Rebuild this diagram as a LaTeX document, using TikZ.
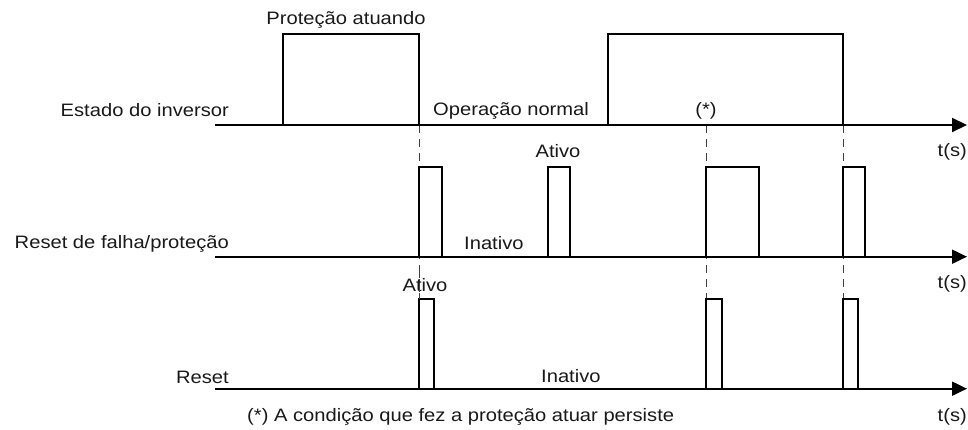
\documentclass[tikz,border=0pt]{standalone}
\usepackage{fontspec}
\setmainfont[FakeStretch=1.12]{Liberation Sans}
\usetikzlibrary{arrows.meta}
\begin{document}
\begin{tikzpicture}[x=1pt,y=-1pt,
  sig/.style={line width=2pt, line join=miter},
  axis/.style={line width=2pt,-{Triangle[length=15pt,width=14pt]}},
  guide/.style={line width=1pt, dash pattern=on 8pt off 6pt, black!75},
  lbl/.style={inner sep=0pt, font=\fontsize{18}{20}\selectfont, text=black!90}]
\useasboundingbox (0,0) rectangle (968,430);
% guide lines
\coordinate (g1a) at (419,125); \coordinate (g1b) at (419,299);
\coordinate (g2a) at (706,125); \coordinate (g2b) at (706,299);
\coordinate (g3a) at (843,125); \coordinate (g3b) at (843,299);
\draw[guide] (g1a) -- (g1b);
\draw[guide] (g2a) -- (g2b);
\draw[guide] (g3a) -- (g3b);
% axes
\coordinate (a1s) at (215,125);   \coordinate (a1e) at (967,125);
\coordinate (a2s) at (215,256.7); \coordinate (a2e) at (967,256.7);
\coordinate (a3s) at (215,388.7); \coordinate (a3e) at (967,388.7);
\draw[axis] (a1s) -- (a1e);
\draw[axis] (a2s) -- (a2e);
\draw[axis] (a3s) -- (a3e);
% signal 1
\draw[sig] (283,125) -- (283,34) -- (419,34) -- (419,125);
\draw[sig] (608,125) -- (608,34) -- (843,34) -- (843,125);
% signal 2
\draw[sig] (419,256.7) -- (419,166.7) -- (442,166.7) -- (442,256.7);
\draw[sig] (548,256.7) -- (548,166.7) -- (570,166.7) -- (570,256.7);
\draw[sig] (706,256.7) -- (706,166.7) -- (759,166.7) -- (759,256.7);
\draw[sig] (843,256.7) -- (843,166.7) -- (865,166.7) -- (865,256.7);
% signal 3
\draw[sig] (419,388.7) -- (419,299) -- (434,299) -- (434,388.7);
\draw[sig] (706,388.7) -- (706,299) -- (722,299) -- (722,388.7);
\draw[sig] (843,388.7) -- (843,299) -- (858,299) -- (858,388.7);
% labels
\node[lbl, anchor=base] (prot) at (346,25) {Proteção atuando};
\node[lbl, anchor=base east] (est) at (229,116.5) {Estado do inversor};
\node[lbl, anchor=base west] (opn) at (433,116) {Operação normal};
\node[lbl, anchor=base] (ast) at (706,116) {(*)};
\node[lbl, anchor=base east] (t1) at (967,157) {t(s)};
\node[lbl, anchor=base] (at2) at (558,158) {Ativo};
\node[lbl, anchor=base west] (in2) at (464,250) {Inativo};
\node[lbl, anchor=base east] (rf) at (229,248) {Reset de falha/proteção};
\node[lbl, anchor=base east] (t2) at (967,288) {t(s)};
\node[lbl, anchor=base] (at3) at (425,291) {Ativo};
\node[lbl, anchor=base east] (rs) at (229,383) {Reset};
\node[lbl, anchor=base west] (in3) at (541,382) {Inativo};
\node[lbl, anchor=base west] (foot) at (247,421) {(*) A condição que fez a proteção atuar persiste};
\node[lbl, anchor=base east] (t3) at (967,421) {t(s)};
% redraw guide over Ativo label as in reference
\draw[guide] (419,270) -- (419,299);
\end{tikzpicture}
\end{document}
